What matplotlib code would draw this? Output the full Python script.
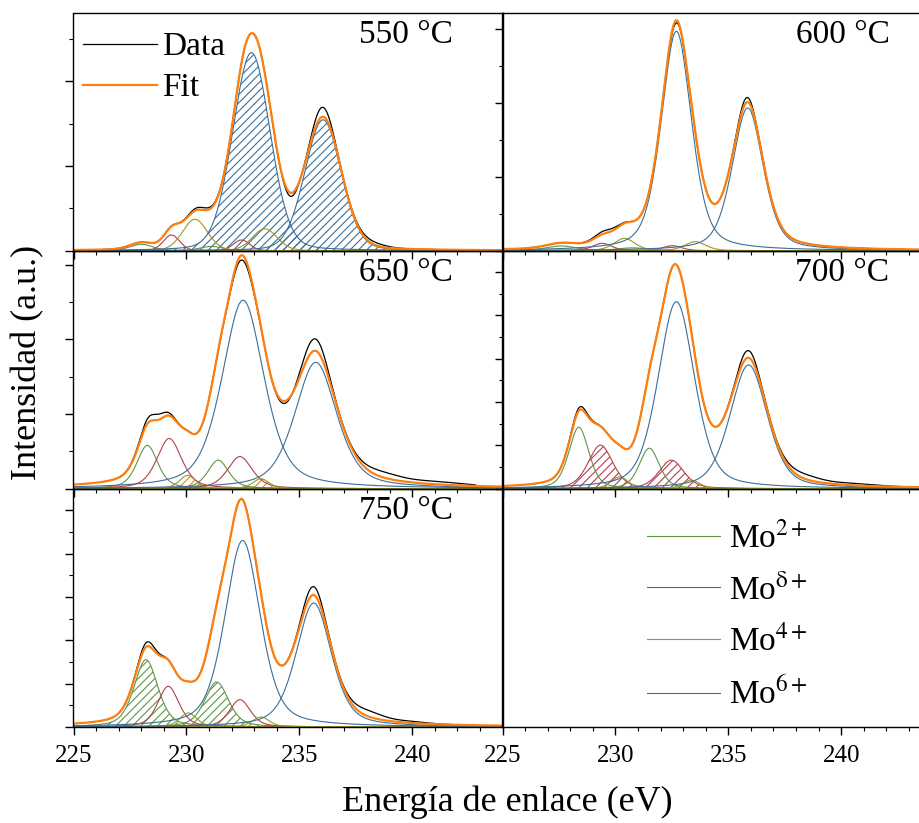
import numpy as np
import matplotlib
matplotlib.use('Agg')
import matplotlib.pyplot as plt
from matplotlib.ticker import MultipleLocator
from matplotlib.lines import Line2D

plt.rcParams['font.family'] = ['Liberation Serif', 'DejaVu Serif']
plt.rcParams['mathtext.fontset'] = 'stix'
plt.rcParams['hatch.linewidth'] = 0.8

# fitted components, order: Mo2+ (3d5/2, 3d3/2), Modelta+ (..), Mo4+ (..), Mo6+ (..)
# values: centre (eV), height (fraction of panel), fwhm (eV)
species = ['Mo$^{2+}$', 'Mo$^{\\mathrm{δ}+}$', 'Mo$^{4+}$', 'Mo$^{6+}$']
colors = ['#5e9646', '#b23f52', '#9a9a22', '#3a6f99']

centers_550 = [228.00, 231.10, 229.34, 232.44, 230.38, 233.47, 232.88, 236.05]
heights_550 = [0.027, 0.018, 0.066, 0.045, 0.132, 0.092, 0.832, 0.550]
fwhm_550 = [1.20, 1.20, 0.85, 0.85, 1.30, 1.30, 1.95, 1.90]

centers_600 = [227.60, 230.75, 229.41, 232.51, 230.40, 233.54, 232.70, 235.86]
heights_600 = [0.020, 0.012, 0.031, 0.021, 0.052, 0.038, 0.922, 0.600]
fwhm_600 = [1.60, 1.60, 1.00, 1.00, 1.10, 1.10, 1.58, 1.62]

centers_650 = [228.27, 231.41, 229.24, 232.37, 230.05, 233.30, 232.51, 235.73]
heights_650 = [0.182, 0.120, 0.211, 0.135, 0.056, 0.042, 0.792, 0.531]
fwhm_650 = [1.10, 1.10, 1.30, 1.30, 0.85, 0.85, 2.20, 2.20]

centers_700 = [228.38, 231.50, 229.34, 232.48, 230.19, 233.36, 232.70, 235.90]
heights_700 = [0.258, 0.170, 0.183, 0.120, 0.050, 0.036, 0.786, 0.520]
fwhm_700 = [1.05, 1.05, 1.30, 1.30, 0.90, 0.90, 1.90, 1.95]

centers_750 = [228.21, 231.34, 229.20, 232.37, 230.08, 233.30, 232.49, 235.64]
heights_750 = [0.283, 0.189, 0.171, 0.115, 0.059, 0.042, 0.784, 0.521]
fwhm_750 = [1.25, 1.25, 1.10, 1.10, 0.90, 0.90, 1.85, 1.85]

# Lorentzian fraction of the pseudo-Voigt line shape for each sample
eta = [0.15, 0.42, 0.50, 0.40, 0.45]

# measured spectrum minus fit (centre, height, fwhm)
resid_550 = [(236.00, 0.040, 0.9), (234.60, -0.015, 0.6), (238.20, 0.012, 1.5), (230.70, 0.010, 1.2)]
resid_600 = [(235.75, 0.020, 0.8), (232.60, -0.012, 0.6), (229.60, 0.012, 1.2)]
resid_650 = [(232.50, -0.020, 1.0), (235.65, 0.050, 1.2), (228.60, 0.025, 1.2),
             (238.60, 0.022, 2.0), (241.00, 0.012, 3.0), (234.40, -0.012, 0.8)]
resid_700 = [(235.85, 0.030, 1.0), (228.45, 0.012, 0.9), (238.30, 0.020, 1.8), (240.50, 0.008, 2.5)]
resid_750 = [(235.60, 0.035, 1.0), (228.30, 0.018, 0.9), (238.00, 0.025, 1.6), (239.80, 0.007, 2.0)]

labels = ['550 °C', '600 °C', '650 °C', '700 °C', '750 °C']
hatched = [3, None, 2, 1, 0]       # species filled with hatch in each panel
hatch_col = ['#3a6f99', None, '#d08a2a', '#b23f52', '#5e9646']
ytick_major = [0.3557, 0.311, 0.3137, 0.182, 0.182]

centers = [centers_550, centers_600, centers_650, centers_700, centers_750]
heights = [heights_550, heights_600, heights_650, heights_700, heights_750]
fwhms = [fwhm_550, fwhm_600, fwhm_650, fwhm_700, fwhm_750]
resids = [resid_550, resid_600, resid_650, resid_700, resid_750]

energy = np.linspace(225, 245, 2001)
measured = (energy >= 226.2) & (energy <= 242.8)


def pv(x, c, h, w, n):
    g = np.exp(-4 * np.log(2) * (x - c) ** 2 / w ** 2)
    l = 1 / (1 + 4 * (x - c) ** 2 / w ** 2)
    return h * ((1 - n) * g + n * l)


fig = plt.figure(figsize=(9.2, 8.23), dpi=100)
W, H = 429 / 920, 238 / 823
xl = [73.5 / 920, 502.5 / 920]
yb = [(823 - 250.7) / 823, (823 - 488.7) / 823, (823 - 727.0) / 823]
slots = [(0, 0), (0, 1), (1, 0), (1, 1), (2, 0)]


def style(ax, bottom):
    ax.set_xlim(225, 244)
    ax.set_ylim(0, 1)
    ax.patch.set_alpha(0)
    for s in ax.spines.values():
        s.set_linewidth(1.0)
    ax.xaxis.set_major_locator(MultipleLocator(5))
    ax.xaxis.set_minor_locator(MultipleLocator(1))
    ax.tick_params(axis='both', which='major', direction='out', length=6, width=1,
                   labelsize=18, pad=7, top=False, right=False, labelleft=False)
    ax.tick_params(axis='both', which='minor', direction='out', length=3, width=0.8,
                   top=False, right=False)
    ax.tick_params(axis='x', labelbottom=bottom)


for i in range(5):
    r, c = slots[i]
    ax = fig.add_axes([xl[c], yb[r], W, H])
    style(ax, r == 2)
    ax.yaxis.set_major_locator(MultipleLocator(ytick_major[i]))
    ax.yaxis.set_minor_locator(MultipleLocator(ytick_major[i] / 2))

    fit = np.zeros_like(energy)
    for k in range(8):
        y = pv(energy, centers[i][k], heights[i][k], fwhms[i][k], eta[i])
        fit += y
        sp = k // 2
        if hatched[i] == sp:
            ax.fill_between(energy, 0, y, facecolor='none', edgecolor=hatch_col[i],
                            hatch='////', linewidth=0)
        ax.plot(energy, y, color=colors[sp], lw=0.8)

    data = fit.copy()
    for (rc, rh, rw) in resids[i]:
        data += rh * np.exp(-4 * np.log(2) * (energy - rc) ** 2 / rw ** 2)
    ax.plot(energy[measured], data[measured], color='black', lw=0.9)
    ax.plot(energy, fit, color='#ff7f0e', lw=1.6)

    ax.text(0.885 if c == 0 else 0.902, 0.872, labels[i], transform=ax.transAxes,
            ha='right', va='baseline', fontsize=24)

    if i == 0:
        h = [Line2D([], [], color='black', lw=0.9), Line2D([], [], color='#ff7f0e', lw=1.6)]
        ax.legend(h, ['Data', 'Fit'], loc='upper left', bbox_to_anchor=(-0.021, 1),
                  frameon=False, fontsize=24, handlelength=2.2, handletextpad=0.15,
                  labelspacing=0.32, borderaxespad=0.37, borderpad=0.2)

# empty panel holding the species legend
ax = fig.add_axes([xl[1], yb[2], W, H])
style(ax, True)
ax.set_yticks([])
h = [Line2D([], [], color=col, lw=0.8) for col in colors]
ax.legend(h, species, loc='upper left', bbox_to_anchor=(0.267, 0.988), frameon=False,
          fontsize=24, handlelength=2.2, handletextpad=0.25, labelspacing=0.57)

fig.text(0.03, 0.56, 'Intensidad (a.u.)', rotation=90, ha='center', va='center', fontsize=26)
fig.text(0.551, 0.014, 'Energía de enlace (eV)', ha='center', va='baseline', fontsize=26)

fig.savefig('out.png', dpi=100)
